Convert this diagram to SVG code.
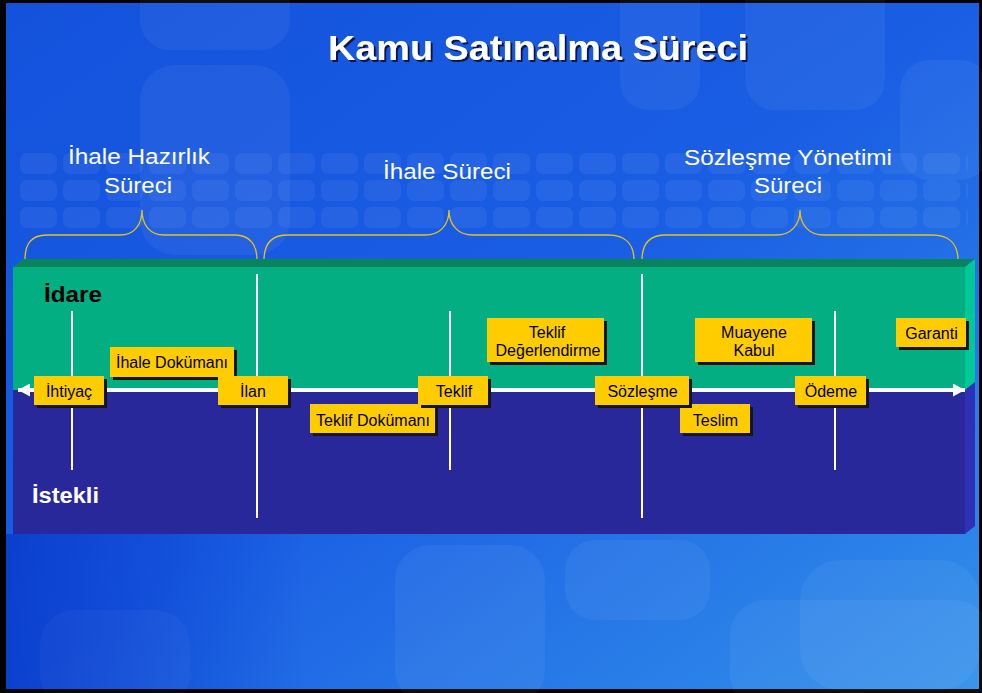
<svg xmlns="http://www.w3.org/2000/svg" width="982" height="693" viewBox="0 0 982 693">
<style>
.ph{font-family:"Liberation Sans",Arial,sans-serif;font-size:22px;fill:#ffffff;text-anchor:middle}
.bt{font-family:"Liberation Sans",Arial,sans-serif;font-size:16px;fill:#000000;text-anchor:middle}
.box{fill:#FFCC00}
.sh{fill:#151515}
.vl{stroke:#ffffff;stroke-width:2;fill:none}
.br{stroke:#E8C21C;stroke-width:1.3;fill:none}
.lt{fill:#ffffff;opacity:0.05}
</style>
<defs>
<linearGradient id="bg" x1="0" y1="0" x2="1" y2="1">
<stop offset="0" stop-color="#1452dc"/>
<stop offset="0.5" stop-color="#1a5ee4"/>
<stop offset="1" stop-color="#3290ea"/>
</linearGradient>
<linearGradient id="bg2" x1="0" y1="0" x2="1" y2="0">
<stop offset="0" stop-color="#0534c6" stop-opacity="0.7"/>
<stop offset="0.5" stop-color="#0534c6" stop-opacity="0"/>
</linearGradient>
<pattern id="dots" x="18" y="150" width="43" height="27" patternUnits="userSpaceOnUse">
<rect x="2" y="3" width="37" height="21" rx="7" fill="#ffffff" opacity="0.055"/>
</pattern>
<filter id="tsh" x="-5%" y="-20%" width="110%" height="150%">
<feDropShadow dx="2" dy="2" stdDeviation="0.6" flood-color="#101030" flood-opacity="0.9"/>
</filter>
<marker id="ah" viewBox="0 0 12 13" refX="12" refY="6.5" markerWidth="12" markerHeight="13" markerUnits="userSpaceOnUse" orient="auto-start-reverse">
<path d="M0,0 L12,6.5 L0,13 Z" fill="#ffffff"/>
</marker>
</defs>

<rect x="0" y="0" width="982" height="693" fill="#000000"/>
<g id="background">
<rect x="6" y="3" width="973" height="686" fill="url(#bg)"/>
<rect x="6" y="534" width="600" height="155" fill="url(#bg2)"/>
<rect x="140" y="-30" width="150" height="80" rx="30" class="lt"/>
<rect x="140" y="65" width="150" height="190" rx="35" class="lt"/>
<rect x="620" y="-30" width="80" height="140" rx="28" class="lt"/>
<rect x="745" y="-30" width="140" height="140" rx="30" class="lt"/>
<rect x="900" y="60" width="90" height="120" rx="30" class="lt"/>
<rect x="18" y="150" width="950" height="82" fill="url(#dots)"/>
<rect x="395" y="545" width="150" height="160" rx="35" class="lt"/>
<rect x="565" y="540" width="145" height="80" rx="30" class="lt"/>
<rect x="730" y="600" width="260" height="110" rx="35" class="lt"/>
<rect x="800" y="560" width="180" height="130" rx="40" class="lt"/>
<rect x="40" y="610" width="150" height="100" rx="35" fill="#ffffff" opacity="0.03"/>
</g>

<g id="title">
<text x="328" y="60" font-family="'Liberation Sans',Arial,sans-serif" font-size="35" font-weight="bold" fill="#ffffff" filter="url(#tsh)" textLength="420" lengthAdjust="spacingAndGlyphs">Kamu Satınalma Süreci</text>
</g>

<g id="phase-hazirlik">
<text class="ph" x="139" y="164" textLength="142" lengthAdjust="spacingAndGlyphs">İhale Hazırlık</text>
<text class="ph" x="138" y="193" textLength="68" lengthAdjust="spacingAndGlyphs">Süreci</text>
<path class="br" d="M25,260 C25,245 30,235 47,235 L120,235 C134,235 142,225 142,210 C142,225 150,235 164,235 L235,235 C250,235 257,245 257,260"/>
</g>
<g id="phase-ihale">
<text class="ph" x="447" y="179" textLength="128" lengthAdjust="spacingAndGlyphs">İhale Süreci</text>
<path class="br" d="M264,260 C264,245 270,235 288,235 L425,235 C440,235 449,225 449,210 C449,225 458,235 473,235 L608,235 C626,235 634,245 634,260"/>
</g>
<g id="phase-sozlesme">
<text class="ph" x="788" y="165" textLength="208" lengthAdjust="spacingAndGlyphs">Sözleşme Yönetimi</text>
<text class="ph" x="788" y="193" textLength="68" lengthAdjust="spacingAndGlyphs">Süreci</text>
<path class="br" d="M642,260 C642,245 648,235 666,235 L776,235 C791,235 800,225 800,210 C800,225 809,235 824,235 L932,235 C950,235 958,245 958,260"/>
</g>

<g id="lanes">
<polygon points="13,267 23,259 975,259 965,267" fill="#07845E"/>
<rect x="13" y="267" width="952" height="123" fill="#03AE82"/>
<rect x="13" y="390" width="952" height="144" fill="#29289A"/>
<polygon points="965,267 975,259 975,382 965,390" fill="#00C896"/>
<polygon points="965,390 975,382 975,526 965,534" fill="#2E30B6"/>
<text x="44" y="302" font-family="'Liberation Sans',Arial,sans-serif" font-size="22" font-weight="bold" fill="#000000" textLength="58" lengthAdjust="spacingAndGlyphs">İdare</text>
<text x="32" y="503" font-family="'Liberation Sans',Arial,sans-serif" font-size="22" font-weight="bold" fill="#ffffff" textLength="67" lengthAdjust="spacingAndGlyphs">İstekli</text>
</g>

<g id="connectors">
<line x1="18" y1="390" x2="965" y2="390" stroke="#ffffff" stroke-width="4" marker-start="url(#ah)" marker-end="url(#ah)"/>
<line class="vl" x1="72" y1="311" x2="72" y2="470"/>
<line class="vl" x1="257" y1="274" x2="257" y2="518"/>
<line class="vl" x1="450" y1="311" x2="450" y2="470"/>
<line class="vl" x1="642" y1="274" x2="642" y2="518"/>
<line class="vl" x1="835" y1="311" x2="835" y2="470"/>
</g>

<g id="ihale-dokumani">
<rect class="sh" x="113" y="350" width="124" height="30"/>
<rect class="box" x="110" y="347" width="124" height="30"/>
<text class="bt" x="172" y="368">İhale Dokümanı</text>
</g>
<g id="teklif-dokumani">
<rect class="sh" x="313" y="407" width="125" height="29"/>
<rect class="box" x="310" y="404" width="125" height="29"/>
<text class="bt" x="373" y="426">Teklif Dokümanı</text>
</g>
<g id="teslim">
<rect class="sh" x="683" y="407" width="70" height="29"/>
<rect class="box" x="680" y="404" width="70" height="29"/>
<text class="bt" x="715.5" y="426">Teslim</text>
</g>
<g id="teklif-degerlendirme">
<rect class="sh" x="490" y="321" width="117" height="44"/>
<rect class="box" x="487" y="318" width="117" height="44"/>
<text class="bt" x="547" y="338">Teklif</text>
<text class="bt" x="548" y="356">Değerlendirme</text>
</g>
<g id="muayene-kabul">
<rect class="sh" x="698" y="321" width="117" height="44"/>
<rect class="box" x="695" y="318" width="117" height="44"/>
<text class="bt" x="754" y="338">Muayene</text>
<text class="bt" x="754" y="356">Kabul</text>
</g>
<g id="garanti">
<rect class="sh" x="899" y="321" width="70" height="29"/>
<rect class="box" x="896" y="318" width="70" height="29"/>
<text class="bt" x="931.5" y="339">Garanti</text>
</g>
<g id="ihtiyac">
<rect class="sh" x="37" y="379" width="70" height="29"/>
<rect class="box" x="34" y="376" width="70" height="29"/>
<text class="bt" x="69" y="397">İhtiyaç</text>
</g>
<g id="ilan">
<rect class="sh" x="221" y="379" width="70" height="29"/>
<rect class="box" x="218" y="376" width="70" height="29"/>
<text class="bt" x="253" y="397">İlan</text>
</g>
<g id="teklif">
<rect class="sh" x="421" y="379" width="70" height="29"/>
<rect class="box" x="418" y="376" width="70" height="29"/>
<text class="bt" x="454" y="397">Teklif</text>
</g>
<g id="sozlesme">
<rect class="sh" x="598" y="379" width="94" height="29"/>
<rect class="box" x="595" y="376" width="94" height="29"/>
<text class="bt" x="642.5" y="397">Sözleşme</text>
</g>
<g id="odeme">
<rect class="sh" x="798" y="379" width="71" height="29"/>
<rect class="box" x="795" y="376" width="71" height="29"/>
<text class="bt" x="831" y="397">Ödeme</text>
</g>
</svg>
